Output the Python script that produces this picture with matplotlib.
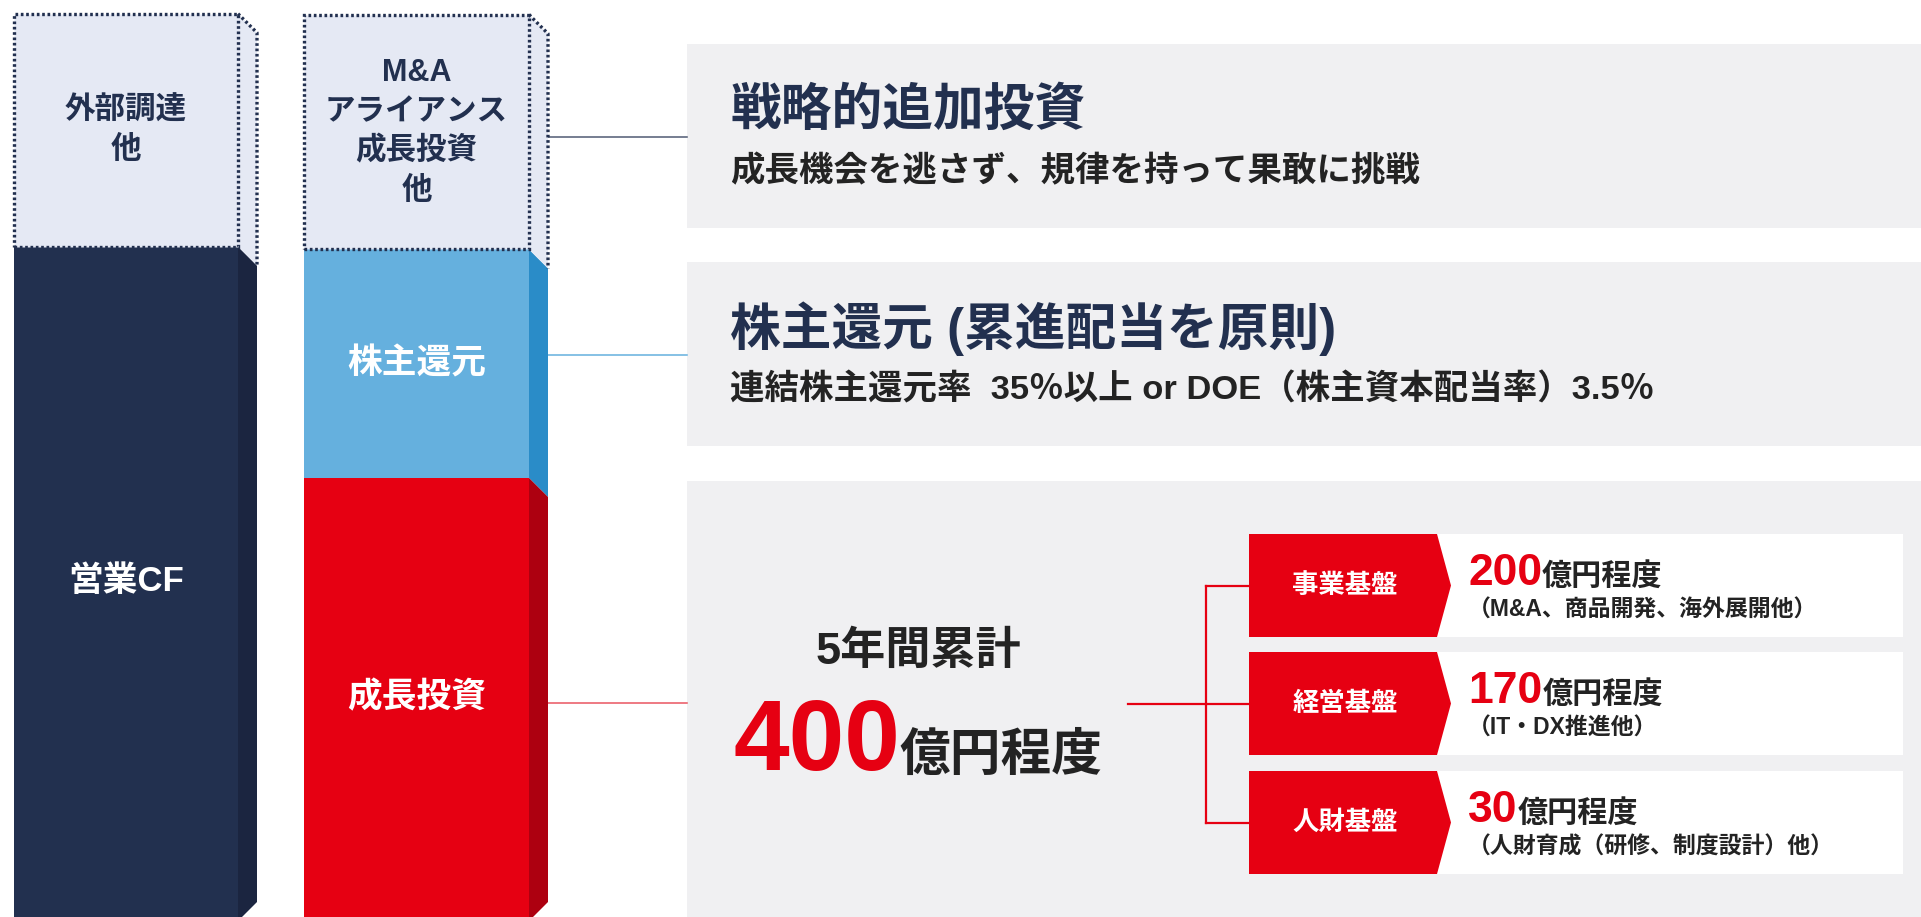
import matplotlib
matplotlib.use('Agg')
import matplotlib.pyplot as plt
from matplotlib.patches import Polygon, Rectangle

plt.rcParams['font.family'] = ['Liberation Sans', 'Noto Sans CJK JP', 'DejaVu Sans']

# --- DATA ---
left_labels = ['営業CF', '外部調達\n他']
left_values = [73.1, 25.4]
right_labels = ['成長投資', '株主還元', 'M&A\nアライアンス\n成長投資\n他']
right_values = [47.9, 24.9, 25.6]

panel_titles = ['戦略的追加投資', '株主還元 (累進配当を原則)']
panel_subtitles = ['成長機会を逃さず、規律を持って果敢に挑戦',
                   '連結株主還元率  35％以上 or DOE（株主資本配当率）3.5％']

total_label = '5年間累計'
total_amount = 400
unit_label = '億円程度'
alloc_names = ['事業基盤', '経営基盤', '人財基盤']
alloc_amounts = [200, 170, 30]
alloc_notes = ['（M&A、商品開発、海外展開他）', '（IT・DX推進他）', '（人財育成（研修、制度設計）他）']

# --- STYLE ---
W, H = 1921, 917
NAVY, NAVY_SIDE = '#22304f', '#1b2540'
BLUE, BLUE_SIDE = '#65b0de', '#2a8cc8'
RED, RED_SIDE = '#e60012', '#ad0010'
LIGHT = '#e5e9f4'
PANEL = '#f0f0f2'
DARK = '#232323'
DOT = (0, (0.8, 0.8))
DOT_LW = 2.4

fig = plt.figure(figsize=(W / 100, H / 100), dpi=100)
ax = fig.add_axes([0, 0, 1, 1])          # layout axes, pixel coords
ax.set_xlim(0, W)
ax.set_ylim(H, 0)
ax.axis('off')
bx = fig.add_axes([0, 0, 1, 1])          # bar axes, value units
bx.set_xlim(0, W)
bx.set_ylim(0, 100)
bx.axis('off')

px = 100 / H          # one pixel in bar units
DX, DY = 19, 19 * px  # depth of the 3D side
STEP = 39.5 * px


def draw_stack(xc, width, labels, values, colors):
    x1 = xc + width / 2
    bottom = 0
    for lab, val, (face, side) in zip(labels, values, colors):
        top = bottom + val
        dotted = face == LIGHT
        bx.bar(xc, val, width=width, bottom=bottom, color=face,
               edgecolor=NAVY if dotted else face,
               linestyle=DOT if dotted else '-', linewidth=DOT_LW if dotted else 0,
               zorder=3)
        if bottom == 0:
            pts = [(x1, top), (x1 + DX, top - DY), (x1 + DX, 15 * px), (x1 + 4, 0), (x1, 0)]
        else:
            pts = [(x1, top), (x1 + DX, top - DY), (x1 + DX, bottom - DY), (x1, bottom)]
        bx.add_patch(Polygon(pts, closed=True, facecolor=side, edgecolor='none', zorder=2))
        if dotted:
            bx.plot([x1, x1 + DX, x1 + DX], [top, top - DY, bottom - DY],
                    color=NAVY, linestyle=DOT, linewidth=DOT_LW, zorder=4)
        lines = lab.split('\n')
        mid = bottom + val / 2
        n = len(lines)
        for i, line in enumerate(lines):
            bx.text(xc, mid + ((n - 1) / 2 - i) * STEP, line, ha='center', va='center',
                    fontsize=22 if dotted else 25, fontweight='bold',
                    color=NAVY if dotted else 'white', zorder=5)
        bottom = top


draw_stack(126, 224, left_labels, left_values, [(NAVY, NAVY_SIDE), (LIGHT, LIGHT)])
draw_stack(416.5, 225, right_labels, right_values,
           [(RED, RED_SIDE), (BLUE, BLUE_SIDE), (LIGHT, LIGHT)])

# panels
panel_tops = [44, 262, 481]
panel_heights = [184, 184, H - 481 + 5]
for t, h in zip(panel_tops, panel_heights):
    ax.add_patch(Rectangle((687, t), W - 687, h, facecolor=PANEL, edgecolor='none', zorder=1))

for t, title, sub in zip(panel_tops, panel_titles, panel_subtitles):
    ax.text(730, t + 67, title, ha='left', va='center', fontsize=36.5,
            fontweight='bold', color=NAVY, zorder=5)
    ax.text(730, t + 128, sub, ha='left', va='center', fontsize=24.8,
            fontweight='bold', color=DARK, zorder=5)

# connectors from bars to panels
ax.plot([548, 687], [137, 137], color='#4f5a73', lw=1.1, zorder=2)
ax.plot([548, 687], [355, 355], color=BLUE, lw=1.1, zorder=2)
ax.plot([548, 687], [703, 703], color='#ea5560', lw=1.1, zorder=2)

fig.canvas.draw()
renderer = fig.canvas.get_renderer()
inv = ax.transData.inverted()


def text_width(t):
    bb = t.get_window_extent(renderer=renderer)
    return inv.transform((bb.x1, 0))[0] - inv.transform((bb.x0, 0))[0]


# total
ax.text(918, 652, total_label, ha='center', va='center', fontsize=32.5,
        fontweight='bold', color=DARK, zorder=5)
t_num = ax.text(0, 770, str(total_amount), ha='left', va='baseline', fontsize=72,
                fontweight='bold', color=RED, zorder=5)
t_unit = ax.text(0, 770, unit_label, ha='left', va='baseline', fontsize=36.5,
                 fontweight='bold', color=DARK, zorder=5)
wn, wu = text_width(t_num), text_width(t_unit)
x0 = 918 - (wn + wu) / 2
t_num.set_x(x0)
t_unit.set_x(x0 + wn)

# allocation boxes
box_tops = [534, 652, 771]
bh = 103
for t, name, amt, note in zip(box_tops, alloc_names, alloc_amounts, alloc_notes):
    ax.add_patch(Rectangle((1437, t), 1903 - 1437, bh, facecolor='white', edgecolor='none', zorder=2))
    ax.add_patch(Polygon([(1249, t), (1437, t), (1451, t + bh / 2), (1437, t + bh), (1249, t + bh)],
                         closed=True, facecolor=RED, edgecolor='none', zorder=3))
    ax.text(1345, t + bh / 2, name, ha='center', va='center', fontsize=19,
            fontweight='bold', color='white', zorder=5)
    tn = ax.text(1468, t + 51, str(amt), ha='left', va='baseline', fontsize=32,
                 fontweight='bold', color=RED, zorder=5)
    ax.text(1468 + text_width(tn), t + 51, unit_label, ha='left', va='baseline',
            fontsize=21.7, fontweight='bold', color=DARK, zorder=5)
    ax.text(1468, t + 76, note, ha='left', va='center', fontsize=16.5,
            fontweight='bold', color=DARK, zorder=5)

# bracket
centers = [t + bh / 2 for t in box_tops]
ax.plot([1206, 1206], [centers[0], centers[-1]], color=RED, lw=1.6, zorder=2)
for c in centers:
    ax.plot([1206, 1249], [c, c], color=RED, lw=1.6, zorder=2)
ax.plot([1128, 1206], [centers[1], centers[1]], color=RED, lw=1.6, zorder=2)

fig.savefig('out.png', dpi=100)
